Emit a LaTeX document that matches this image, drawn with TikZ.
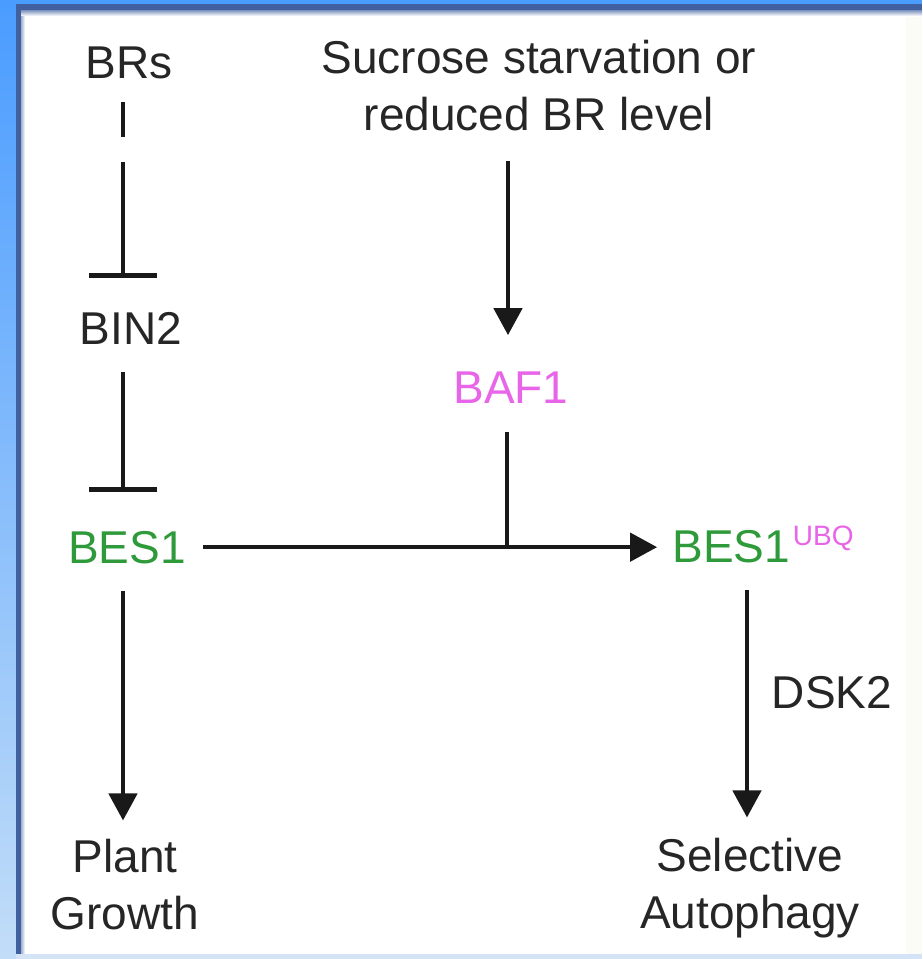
\documentclass[tikz,border=0pt]{standalone}
\usepackage{fontspec}
\setmainfont{Liberation Sans}
\usetikzlibrary{arrows.meta,calc}
\definecolor{txt}{HTML}{262626}
\definecolor{grn}{HTML}{2E9A3A}
\definecolor{mag}{HTML}{E864E8}
\definecolor{skyA}{HTML}{4A9CFF}
\definecolor{skyB}{HTML}{C2DDF8}
\definecolor{framec}{HTML}{41609F}
\definecolor{botc}{HTML}{D5E3F7}
\definecolor{offw}{HTML}{FCFCF6}
\begin{document}
\begin{tikzpicture}[x=1pt,y=-1pt,
  lbl/.style={inner sep=0pt, anchor=base, text=txt, font=\fontsize{46}{57}\selectfont, align=center},
  conn/.style={line width=4.6pt, draw=black!90},
  arr/.style={conn, -{Triangle[width=28pt,length=27pt]}},
  inh/.style={conn, -{Bar[width=68pt]}}]
% background and frame
\useasboundingbox (0,0) rectangle (922,959);
\fill[white] (0,0) rectangle (922,959);
\fill[offw] (906,14) rectangle (922,954);
\shade[top color=skyA, bottom color=skyB] (0,0) rectangle (16,959);
\fill[skyA] (16,0) rectangle (922,4);
\fill[framec] (16,4) rectangle (922,10);
\shade[top color=framec!70, bottom color=white] (16,10) rectangle (922,16);
\fill[framec] (16,4) rectangle (21,955);
\shade[left color=framec!50, right color=white] (21,16) rectangle (25,954);
\fill[botc] (16,954) rectangle (922,959);
% nodes
\node[lbl] (brs) at (129,78) {BRs};
\node[lbl] (suc) at (539,130) {Sucrose starvation or\\reduced BR level};
\node[lbl] (bin2) at (131,344) {BIN2};
\node[lbl, text=mag] (baf1) at (511,403) {BAF1};
\node[lbl, text=grn] (bes1) at (127,563) {BES1};
\node[lbl, text=grn] (ubq) at (763,562) {BES1\hspace{3pt}\raisebox{17pt}{\fontsize{28}{28}\selectfont\color{mag}UBQ}};
\node[lbl] (dsk2) at (832,708) {DSK2};
\node[lbl] (plant) at (125,929) {Plant\\Growth};
\node[lbl] (sel) at (750,928) {Selective\\Autophagy};
% connectors
\draw[inh, dash pattern=on 35pt off 25pt on 400pt] ([shift={(-6pt,-24pt)}]brs.base) -- ([shift={(-8pt,66pt)}]bin2.base);
\draw[inh] ([shift={(-8pt,-28pt)}]bin2.base) -- ([shift={(-4pt,71pt)}]bes1.base);
\draw[arr] ([xshift=17pt]bes1.east) -- ([xshift=-15pt]bes1.east -| ubq.west);
\path (baf1.south |- bes1.east) ++(-4pt,0pt) coordinate (jn);
\draw[arr] ([shift={(-31pt,-30pt)}]suc.south) -- ([shift={(-3pt,36pt)}]baf1.north);
\draw[conn] ([shift={(-4pt,-29pt)}]baf1.south) -- (jn);
\draw[arr] ([shift={(-4pt,-27pt)}]bes1.south) -- ([shift={(-2pt,18pt)}]plant.north);
\draw[arr] ([shift={(-16pt,-28pt)}]ubq.base) -- ([shift={(-3pt,20pt)}]sel.north);
\end{tikzpicture}
\end{document}
